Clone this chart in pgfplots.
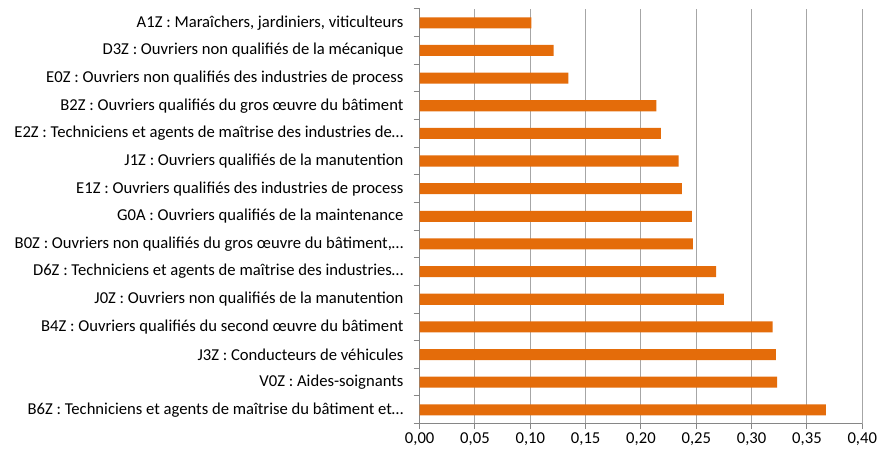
\documentclass[border=0pt]{standalone}
\usepackage{pgfplots}
\pgfplotsset{compat=1.18}
\usepackage{fontspec}
\setmainfont{Carlito}
\definecolor{barorange}{HTML}{E46C0A}
\definecolor{gridgray}{HTML}{A6A6A6}
\definecolor{axisgray}{HTML}{868686}
\begin{document}
\fontsize{16.65}{19}\selectfont
\begin{tikzpicture}
\begin{axis}[
  scale only axis, width=443pt, height=415pt,
  xmin=0, xmax=0.40, ymin=-0.5, ymax=14.5,
  clip=false,
  axis x line*=bottom, axis y line*=left,
  x axis line style={-, draw=axisgray, line width=1.3pt},
  y axis line style={-, draw=axisgray, line width=1.3pt},
  xtick={0,0.05,0.10,0.15,0.20,0.25,0.30,0.35,0.40},
  xmajorgrids, major grid style={draw=gridgray, line width=1pt},
  tick align=outside, major tick length=5pt, minor tick length=6pt,
  xtick style={draw=axisgray, line width=1pt},
  ytick={0,...,14},
  ytick style={draw=none},
  minor ytick={-0.5,0.5,...,14.5},
  minor y tick style={draw=axisgray, line width=1pt},
  yticklabels={
    B6Z : Techniciens et agents de maîtrise du bâtiment et…,
    V0Z : Aides-soignants,
    J3Z : Conducteurs de véhicules,
    B4Z : Ouvriers qualifiés du second œuvre du bâtiment,
    J0Z : Ouvriers non qualifiés de la manutention,
    D6Z : Techniciens et agents de maîtrise des industries…,
    {B0Z : Ouvriers non qualifiés du gros œuvre du bâtiment,…},
    G0A : Ouvriers qualifiés de la maintenance,
    E1Z : Ouvriers qualifiés des industries de process,
    J1Z : Ouvriers qualifiés de la manutention,
    E2Z : Techniciens et agents de maîtrise des industries de…,
    B2Z : Ouvriers qualifiés du gros œuvre du bâtiment,
    E0Z : Ouvriers non qualifiés des industries de process,
    D3Z : Ouvriers non qualifiés de la mécanique,
    {A1Z : Maraîchers, jardiniers, viticulteurs}
  },
  yticklabel style={font=\fontsize{16.65}{19}\selectfont, anchor=east, inner sep=0pt, xshift=-11pt},
  xticklabel style={font=\fontsize{16.65}{19}\selectfont, inner sep=2pt, yshift=-2pt},
  /pgf/number format/.cd, fixed, fixed zerofill, precision=2, use comma, assume math mode=true,
]
\addplot[xbar, fill=barorange, draw=none, bar width=0.4] coordinates {
  (0.367,0) (0.323,1) (0.322,2) (0.319,3) (0.275,4) (0.268,5) (0.247,6)
  (0.246,7) (0.237,8) (0.234,9) (0.218,10) (0.214,11) (0.1345,12) (0.121,13) (0.101,14)
};
\path[draw=none] ([xshift=-420pt,yshift=-30pt]rel axis cs:0,0) rectangle ([xshift=459pt,yshift=424pt]rel axis cs:0,0);
\end{axis}
\end{tikzpicture}
\end{document}
